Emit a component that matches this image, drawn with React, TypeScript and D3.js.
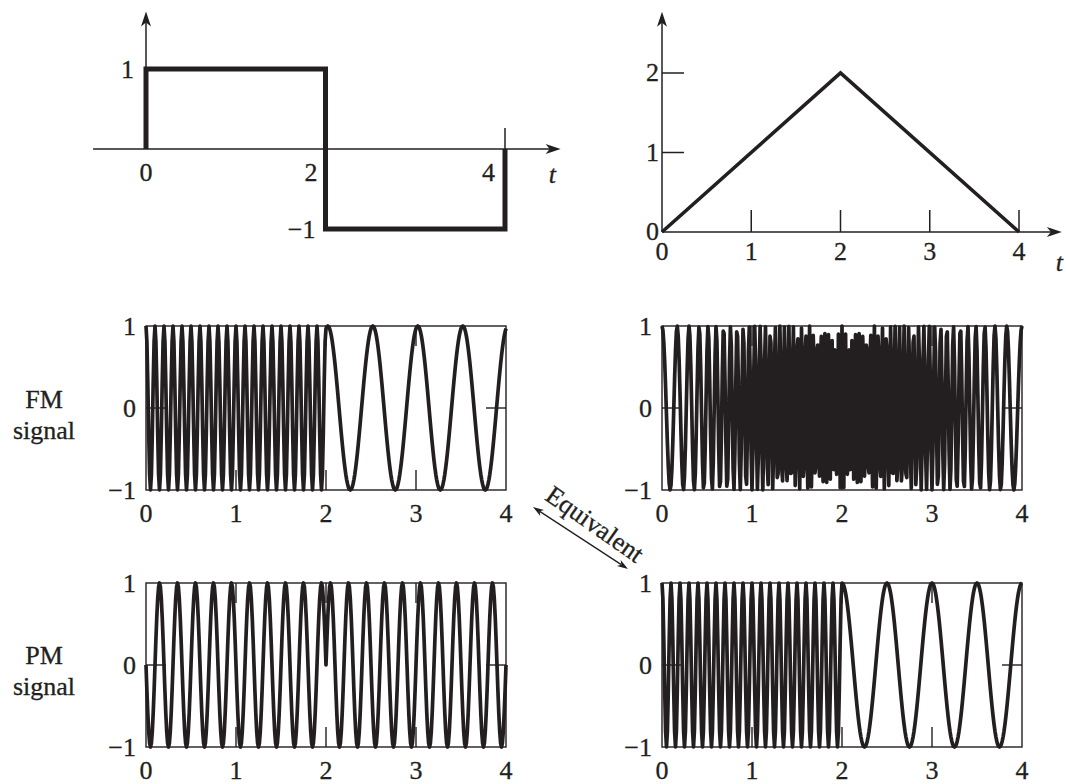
import React from 'react';
import * as d3 from 'd3';

const INK = '#231f20';
const FONT = '"Liberation Serif", "DejaVu Serif", serif';

// message signals m(t)
const squareEdges = [0, 2, 4];
const squareLevels = [1, -1];
const triangleT = [0, 2, 4];
const triangleM = [0, 2, 0];

// tick labels
const squareXTicks = [0, 2, 4];
const squareYTicks = [1, -1];
const triXTicks = [0, 1, 2, 3, 4];
const triYTicks = [0, 1, 2];
const boxXTicks = [0, 1, 2, 3, 4];
const boxYTicks = [-1, 0, 1];

// modulation constants (cycles per unit of t)
const FM_CARRIER_SQUARE = 6;
const FM_DEV_SQUARE = 4;
const FM_CARRIER_TRIANGLE = 5;
const FM_DEV_TRIANGLE = 11;
const PM_CARRIER_SQUARE = 5;
const PM_KP_SQUARE = Math.PI / 2;
const PM_CARRIER_TRIANGLE = 6;
const PM_KP_TRIANGLE = 8 * Math.PI;
const SAMPLE_STEP = 0.01;

const times = d3.range(0, 4 + SAMPLE_STEP / 2, SAMPLE_STEP);

const squareMsg = (t: number) =>
  squareLevels[Math.min(d3.bisectRight(squareEdges, t) - 1, squareLevels.length - 1)];
const triangleMsg = d3.scaleLinear().domain(triangleT).range(triangleM);

function fmWave(msg: (t: number) => number, fc: number, dev: number): [number, number][] {
  let phase = 0;
  return times.map((t, i) => {
    if (i > 0) {
      const tp = times[i - 1];
      const f = fc + (dev * (msg(tp) + msg(t))) / 2;
      phase += 2 * Math.PI * f * (t - tp);
    }
    return [t, Math.cos(phase)];
  });
}

function pmWave(msg: (t: number) => number, fc: number, kp: number): [number, number][] {
  return times.map((t) => [t, Math.cos(2 * Math.PI * fc * t + kp * msg(t))]);
}

const signals = {
  fmSquare: fmWave(squareMsg, FM_CARRIER_SQUARE, FM_DEV_SQUARE),
  fmTriangle: fmWave(triangleMsg, FM_CARRIER_TRIANGLE, FM_DEV_TRIANGLE),
  pmSquare: pmWave(squareMsg, PM_CARRIER_SQUARE, PM_KP_SQUARE),
  pmTriangle: pmWave(triangleMsg, PM_CARRIER_TRIANGLE, PM_KP_TRIANGLE),
};

const fmt = (v: number) => (v < 0 ? '\u2212' + Math.abs(v) : String(v));

function arrowHead(x: number, y: number, angle: number, len = 15, half = 5, notch = 4) {
  const dx = Math.cos(angle), dy = Math.sin(angle);
  const px = -dy, py = dx;
  const bx = x - len * dx, by = y - len * dy;
  const nx = x - (len - notch) * dx, ny = y - (len - notch) * dy;
  return `M${x},${y}L${bx + half * px},${by + half * py}L${nx},${ny}L${bx - half * px},${by - half * py}Z`;
}

const txt = { fontFamily: FONT, fontSize: 26, fill: INK, stroke: INK, strokeWidth: 0.3 } as const;

function SquarePanel() {
  const x = d3.scaleLinear().domain([0, 4]).range([146, 505]);
  const y = d3.scaleLinear().domain([-1, 1]).range([229, 69]);
  const pts: [number, number][] = [[squareEdges[0], 0]];
  squareLevels.forEach((lv, i) => {
    pts.push([squareEdges[i], lv], [squareEdges[i + 1], lv]);
  });
  pts.push([squareEdges[squareEdges.length - 1], 0]);
  const line = d3.line<[number, number]>().x((d) => x(d[0])).y((d) => y(d[1]));
  const x0 = x(-0.59), x1 = x(4.62), yTop = y(1.72);
  return (
    <g>
      <line x1={x0} x2={x1 - 8} y1={y(0)} y2={y(0)} stroke={INK} strokeWidth={1.5} />
      <path d={arrowHead(x1, y(0), 0)} fill={INK} />
      <line x1={x(0)} x2={x(0)} y1={y(0)} y2={yTop + 8} stroke={INK} strokeWidth={1.5} />
      <path d={arrowHead(x(0), yTop, -Math.PI / 2)} fill={INK} />
      {squareXTicks.map((t) => (
        <line key={t} x1={x(t)} x2={x(t)} y1={y(0)} y2={y(0) - 21} stroke={INK} strokeWidth={1.5} />
      ))}
      <path d={line(pts) || ''} fill="none" stroke={INK} strokeWidth={5} strokeLinejoin="miter" />
      <text {...txt} x={x(0)} y={y(0) + 32} textAnchor="middle">{fmt(0)}</text>
      <text {...txt} x={x(2) - 8} y={y(0) + 32} textAnchor="end">{fmt(2)}</text>
      <text {...txt} x={x(4) - 10} y={y(0) + 32} textAnchor="end">{fmt(4)}</text>
      <text {...txt} x={x1 - 12} y={y(0) + 34} fontStyle="italic">t</text>
      <text {...txt} x={x(0) - 12} y={y(squareYTicks[0]) + 9} textAnchor="end">{fmt(squareYTicks[0])}</text>
      <text {...txt} x={x(2) - 10} y={y(squareYTicks[1]) + 9} textAnchor="end">{fmt(squareYTicks[1])}</text>
    </g>
  );
}

function TrianglePanel() {
  const x = d3.scaleLinear().domain([0, 4]).range([662, 1019]);
  const y = d3.scaleLinear().domain([0, 2]).range([232, 73]);
  const line = d3.line<number>().x((d, i) => x(triangleT[i])).y((d) => y(d));
  const x1 = x(4.48), yTop = y(2.77);
  return (
    <g>
      <line x1={x(0)} x2={x1 - 8} y1={y(0)} y2={y(0)} stroke={INK} strokeWidth={1.5} />
      <path d={arrowHead(x1, y(0), 0)} fill={INK} />
      <line x1={x(0)} x2={x(0)} y1={y(0)} y2={yTop + 8} stroke={INK} strokeWidth={1.5} />
      <path d={arrowHead(x(0), yTop, -Math.PI / 2)} fill={INK} />
      {triXTicks.slice(1).map((t) => (
        <line key={t} x1={x(t)} x2={x(t)} y1={y(0)} y2={y(0) - 22} stroke={INK} strokeWidth={1.5} />
      ))}
      {triYTicks.slice(1).map((v) => (
        <line key={v} x1={x(0)} x2={x(0) + 22} y1={y(v)} y2={y(v)} stroke={INK} strokeWidth={1.5} />
      ))}
      <path d={line(triangleM) || ''} fill="none" stroke={INK} strokeWidth={3.6} />
      {triXTicks.map((t) => (
        <text key={t} {...txt} x={x(t)} y={y(0) + 28} textAnchor="middle">{fmt(t)}</text>
      ))}
      {triYTicks.map((v) => (
        <text key={v} {...txt} x={x(0) - 3} y={y(v) + 8} textAnchor="end">{fmt(v)}</text>
      ))}
      <text {...txt} x={x1 - 6} y={y(0) + 39} fontStyle="italic">t</text>
    </g>
  );
}

function SignalBox({ left, top, data }: { left: number; top: number; data: [number, number][] }) {
  const x = d3.scaleLinear().domain([0, 4]).range([left, left + 360]);
  const y = d3.scaleLinear().domain([-1, 1]).range([top + 164, top]);
  const line = d3.line<[number, number]>().x((d) => x(d[0])).y((d) => y(d[1]));
  const tk = 20;
  return (
    <g>
      <path d={line(data) || ''} fill="none" stroke={INK} strokeWidth={3.7} strokeLinejoin="round" />
      <rect x={x(0)} y={y(1)} width={x(4) - x(0)} height={y(-1) - y(1)} fill="none" stroke={INK} strokeWidth={1.4} />
      {boxXTicks.slice(1, -1).map((t) => (
        <g key={t}>
          <line x1={x(t)} x2={x(t)} y1={y(-1)} y2={y(-1) - tk} stroke={INK} strokeWidth={1.4} />
          <line x1={x(t)} x2={x(t)} y1={y(1)} y2={y(1) + tk} stroke={INK} strokeWidth={1.4} />
        </g>
      ))}
      <line x1={x(0)} x2={x(0) + tk} y1={y(0)} y2={y(0)} stroke={INK} strokeWidth={1.4} />
      <line x1={x(4)} x2={x(4) - tk} y1={y(0)} y2={y(0)} stroke={INK} strokeWidth={1.4} />
      {boxXTicks.map((t) => (
        <text key={t} {...txt} x={x(t)} y={y(-1) + 32} textAnchor="middle">{fmt(t)}</text>
      ))}
      {boxYTicks.map((v) => (
        <text key={v} {...txt} x={x(0) - 10} y={y(v) + 9} textAnchor="end">{fmt(v)}</text>
      ))}
    </g>
  );
}

function Equivalent() {
  const a = [533, 507], b = [628, 569];
  const ang = Math.atan2(b[1] - a[1], b[0] - a[0]);
  const mx = (a[0] + b[0]) / 2, my = (a[1] + b[1]) / 2;
  const off = 8;
  const tx = mx + off * Math.sin(ang) + 5, ty = my - off * Math.cos(ang);
  return (
    <g>
      <line x1={a[0] + 8 * Math.cos(ang)} y1={a[1] + 8 * Math.sin(ang)} x2={b[0] - 8 * Math.cos(ang)} y2={b[1] - 8 * Math.sin(ang)} stroke={INK} strokeWidth={1.3} />
      <path d={arrowHead(b[0], b[1], ang, 11, 3.5, 3)} fill={INK} />
      <path d={arrowHead(a[0], a[1], ang + Math.PI, 11, 3.5, 3)} fill={INK} />
      <text {...txt} x={tx} y={ty} textAnchor="middle" transform={`rotate(${(ang * 180) / Math.PI + 2} ${tx} ${ty})`}>Equivalent</text>
    </g>
  );
}

export default function App() {
  return (
    <svg width={1066} height={784} style={{ position: 'absolute', left: 0, top: 0, background: '#fff' }}>
      <SquarePanel />
      <TrianglePanel />
      <SignalBox left={146} top={326} data={signals.fmSquare} />
      <SignalBox left={662} top={326} data={signals.fmTriangle} />
      <SignalBox left={146} top={583} data={signals.pmSquare} />
      <SignalBox left={662} top={583} data={signals.pmTriangle} />
      <text {...txt} x={44} y={408} textAnchor="middle">FM</text>
      <text {...txt} x={44} y={439} textAnchor="middle">signal</text>
      <text {...txt} x={44} y={664} textAnchor="middle">PM</text>
      <text {...txt} x={44} y={695} textAnchor="middle">signal</text>
      <Equivalent />
    </svg>
  );
}
